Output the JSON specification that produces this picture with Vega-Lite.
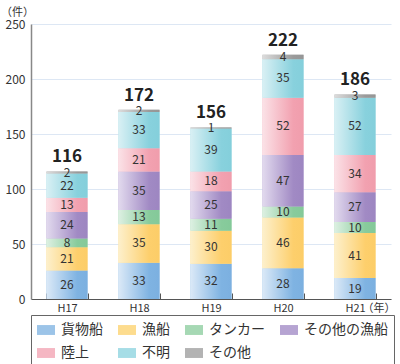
{
  "$schema": "https://vega.github.io/schema/vega-lite/v6.json",
  "width": 360,
  "height": 275,
  "autosize": "none",
  "padding": {"left": 31, "top": 24, "right": 9, "bottom": 65},
  "background": "white",
  "config": {
    "font": "Noto Sans CJK JP",
    "view": {"stroke": null}
  },
  "data": {"values": [
    {"year": "H17", "type": "貨物船", "o": 1, "value": 26},
    {"year": "H17", "type": "漁船", "o": 2, "value": 21},
    {"year": "H17", "type": "タンカー", "o": 3, "value": 8},
    {"year": "H17", "type": "その他の漁船", "o": 4, "value": 24},
    {"year": "H17", "type": "陸上", "o": 5, "value": 13},
    {"year": "H17", "type": "不明", "o": 6, "value": 22},
    {"year": "H17", "type": "その他", "o": 7, "value": 2},
    {"year": "H18", "type": "貨物船", "o": 1, "value": 33},
    {"year": "H18", "type": "漁船", "o": 2, "value": 35},
    {"year": "H18", "type": "タンカー", "o": 3, "value": 13},
    {"year": "H18", "type": "その他の漁船", "o": 4, "value": 35},
    {"year": "H18", "type": "陸上", "o": 5, "value": 21},
    {"year": "H18", "type": "不明", "o": 6, "value": 33},
    {"year": "H18", "type": "その他", "o": 7, "value": 2},
    {"year": "H19", "type": "貨物船", "o": 1, "value": 32},
    {"year": "H19", "type": "漁船", "o": 2, "value": 30},
    {"year": "H19", "type": "タンカー", "o": 3, "value": 11},
    {"year": "H19", "type": "その他の漁船", "o": 4, "value": 25},
    {"year": "H19", "type": "陸上", "o": 5, "value": 18},
    {"year": "H19", "type": "不明", "o": 6, "value": 39},
    {"year": "H19", "type": "その他", "o": 7, "value": 1},
    {"year": "H20", "type": "貨物船", "o": 1, "value": 28},
    {"year": "H20", "type": "漁船", "o": 2, "value": 46},
    {"year": "H20", "type": "タンカー", "o": 3, "value": 10},
    {"year": "H20", "type": "その他の漁船", "o": 4, "value": 47},
    {"year": "H20", "type": "陸上", "o": 5, "value": 52},
    {"year": "H20", "type": "不明", "o": 6, "value": 35},
    {"year": "H20", "type": "その他", "o": 7, "value": 4},
    {"year": "H21", "type": "貨物船", "o": 1, "value": 19},
    {"year": "H21", "type": "漁船", "o": 2, "value": 41},
    {"year": "H21", "type": "タンカー", "o": 3, "value": 10},
    {"year": "H21", "type": "その他の漁船", "o": 4, "value": 27},
    {"year": "H21", "type": "陸上", "o": 5, "value": 34},
    {"year": "H21", "type": "不明", "o": 6, "value": 52},
    {"year": "H21", "type": "その他", "o": 7, "value": 3}
  ]},
  "encoding": {
    "x": {
      "field": "year", "type": "nominal", "sort": null,
      "scale": {"paddingInner": 0.43, "paddingOuter": 0.215},
      "axis": {
        "title": "（年）", "titleAnchor": "end", "titleX": 364, "titleY": 9,
        "titleAlign": "right", "titleBaseline": "middle", "titleFontSize": 11, "titleFontWeight": "normal", "titleColor": "#333",
        "labelAngle": 0, "labelFontSize": 11, "labelColor": "#333", "labelPadding": 9,
        "domainColor": "#555", "domainWidth": 1.2,
        "tickBand": "extent", "tickSize": -6, "tickColor": "#555", "tickWidth": 1
      }
    }
  },
  "layer": [
    {
      "mark": {"type": "bar"},
      "encoding": {
        "y": {
          "field": "value", "type": "quantitative", "stack": "zero",
          "scale": {"domain": [0, 250], "nice": false},
          "axis": {
            "values": [0, 50, 100, 150, 200, 250],
            "title": "（件）", "titleAngle": 0, "titleX": -14, "titleY": -12,
            "titleAlign": "center", "titleBaseline": "middle", "titleFontSize": 11, "titleFontWeight": "normal", "titleColor": "#333",
            "labelFontSize": 12, "labelColor": "#333", "labelPadding": 6,
            "ticks": false, "domainColor": "#888", "domainWidth": 1.5,
            "gridColor": "#dde7f4", "gridWidth": 1.2
          }
        },
        "order": {"field": "o", "type": "quantitative"},
        "color": {
          "field": "type", "type": "nominal",
          "scale": {
            "domain": ["貨物船", "漁船", "タンカー", "その他の漁船", "陸上", "不明", "その他"],
            "range": ["#9cc4e8", "#fddc8e", "#a6d8b4", "#b6a4d2", "#f5b7c3", "#a6dde6", "#b3b3b3"]
          },
          "legend": {
            "title": null, "orient": "none", "legendX": 0, "legendY": 291,
            "direction": "horizontal", "columns": 4, "gridAlign": "each",
            "strokeColor": "#666", "padding": 6, "fillColor": "white",
            "symbolType": "M-1,-0.55H1V0.55H-1Z", "symbolSize": 324, "symbolStrokeWidth": 0, "symbolOpacity": 1,
            "labelFontSize": 14, "labelColor": "#333", "labelOffset": 6,
            "columnPadding": 15, "rowPadding": 7
          }
        }
      }
    },
    {
      "mark": {"type": "bar"},
      "encoding": {
        "y": {"field": "value", "type": "quantitative", "stack": "zero", "scale": {"domain": [0, 250], "nice": false}},
        "order": {"field": "o", "type": "quantitative"},
        "fill": {
          "condition": [
            {"test": "datum.type === '貨物船'", "value": {"gradient": "linear", "x1": 0, "y1": 0, "x2": 1, "y2": 0, "stops": [{"offset": 0, "color": "#dbe9f7"}, {"offset": 0.75, "color": "#7fb3e2"}, {"offset": 1, "color": "#7cb0e0"}]}},
            {"test": "datum.type === '漁船'", "value": {"gradient": "linear", "x1": 0, "y1": 0, "x2": 1, "y2": 0, "stops": [{"offset": 0, "color": "#fdf0cc"}, {"offset": 0.75, "color": "#fdcf6c"}, {"offset": 1, "color": "#fccd68"}]}},
            {"test": "datum.type === 'タンカー'", "value": {"gradient": "linear", "x1": 0, "y1": 0, "x2": 1, "y2": 0, "stops": [{"offset": 0, "color": "#ddf0e2"}, {"offset": 0.75, "color": "#88cb9c"}, {"offset": 1, "color": "#84c999"}]}},
            {"test": "datum.type === 'その他の漁船'", "value": {"gradient": "linear", "x1": 0, "y1": 0, "x2": 1, "y2": 0, "stops": [{"offset": 0, "color": "#e2daee"}, {"offset": 0.75, "color": "#a18ac4"}, {"offset": 1, "color": "#9d86c1"}]}},
            {"test": "datum.type === '陸上'", "value": {"gradient": "linear", "x1": 0, "y1": 0, "x2": 1, "y2": 0, "stops": [{"offset": 0, "color": "#fbe2e7"}, {"offset": 0.75, "color": "#f2a1b0"}, {"offset": 1, "color": "#f09dac"}]}},
            {"test": "datum.type === '不明'", "value": {"gradient": "linear", "x1": 0, "y1": 0, "x2": 1, "y2": 0, "stops": [{"offset": 0, "color": "#d9f0f4"}, {"offset": 0.75, "color": "#88d1dd"}, {"offset": 1, "color": "#84cfdb"}]}}
          ],
          "value": {"gradient": "linear", "x1": 0, "y1": 0, "x2": 1, "y2": 0, "stops": [{"offset": 0, "color": "#dcdcdc"}, {"offset": 0.75, "color": "#9a9a9a"}, {"offset": 1, "color": "#969696"}]}
        }
      }
    },
    {
      "transform": [
        {"stack": "value", "groupby": ["year"], "sort": [{"field": "o", "order": "ascending"}], "as": ["v0", "v1"]},
        {"calculate": "(datum.v0 + datum.v1) / 2", "as": "mid"}
      ],
      "mark": {"type": "text", "fontSize": 12, "color": "#333", "baseline": "middle"},
      "encoding": {
        "y": {"field": "mid", "type": "quantitative", "stack": null, "scale": {"domain": [0, 250], "nice": false}},
        "text": {"field": "value", "type": "quantitative"}
      }
    },
    {
      "transform": [
        {"aggregate": [{"op": "sum", "field": "value", "as": "total"}], "groupby": ["year"]}
      ],
      "mark": {"type": "text", "fontSize": 17, "fontWeight": "bold", "color": "#222", "baseline": "bottom", "dy": -5},
      "encoding": {
        "y": {"field": "total", "type": "quantitative", "stack": null, "scale": {"domain": [0, 250], "nice": false}},
        "text": {"field": "total", "type": "quantitative"}
      }
    }
  ]
}
